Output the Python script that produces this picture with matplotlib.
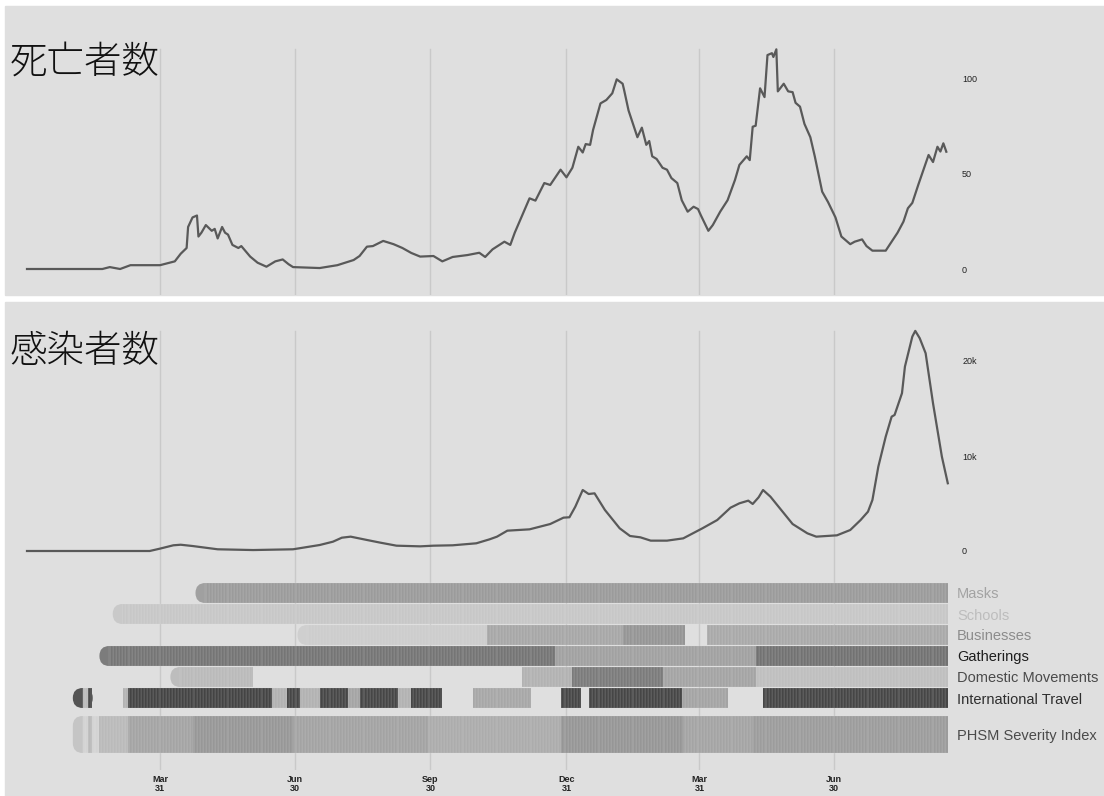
import numpy as np
import pandas as pd
import matplotlib
matplotlib.use("Agg")
import matplotlib.pyplot as plt
from matplotlib.patches import Rectangle, FancyBboxPatch, BoxStyle

plt.rcParams["font.family"] = ["Liberation Sans", "DejaVu Sans"]

# days are counted from 2020-01-01
death_day = [0, 51, 56, 63, 70, 76, 90, 95, 100, 104, 108, 109, 112, 115, 116, 118, 121, 125, 127, 129,
             132, 134, 136, 139, 143, 145, 151, 156, 162, 168, 173, 177, 180, 198, 210, 221, 225, 230, 234,
             241, 248, 254, 260, 266, 275, 281, 288, 298, 306, 310, 315, 323, 327, 330, 335, 340, 344, 350,
             354, 361, 365, 369, 373, 376, 378, 381, 383, 388, 392, 396, 399, 403, 404, 407, 410, 413, 416,
             419, 421, 423, 426, 430, 433, 436, 440, 443, 447, 451, 454, 456, 461, 464, 469, 474, 479, 482,
             487, 489, 491, 493, 496, 499, 501, 504, 505, 507, 508, 512, 515, 518, 520, 523, 526, 530, 533,
             538, 542, 547, 551, 557, 560, 565, 568, 572, 581, 585, 589, 593, 596, 599, 603, 608, 610, 613,
             616, 618, 620, 622]
death_value = [0, 0, 1, 0, 2, 2, 2, 3, 4, 8, 11, 22, 27, 28, 17, 19, 23, 20, 21, 16,
               22, 19, 18, 12.6, 11, 12, 6.5, 3.3, 1.2, 4, 5, 2.5, 1, 0.5, 2, 4.7, 6.8, 11.7, 12,
               14.7, 13, 11, 8.4, 6.5, 6.8, 4, 6.3, 7.3, 8.5, 6.3, 10.3, 14.3, 12.6, 19, 28, 37, 35.8, 45,
               44, 52, 48, 53, 64, 61, 65.4, 65, 72.8, 86.7, 88.5, 92, 99.3, 97, 93.7, 83, 76, 69, 74,
               65, 67, 59, 57.6, 53, 52, 47.6, 45, 36, 30, 32.6, 31.4, 28, 20, 23, 30, 36, 46.6, 54.5,
               59, 57, 74.5, 75, 94.6, 90, 112, 113, 111, 115, 93, 97, 93, 92.6, 87, 85, 76, 69, 59,
               40.5, 35, 27, 17, 13, 14.3, 15.5, 12, 9.6, 9.6, 14.3, 19, 24.8, 31.8, 34.6, 44, 55.3, 59.7, 56,
               64, 61.5, 65.8, 61.4]

case_day = [0, 83, 90, 99, 104, 112, 129, 153, 180, 198, 207, 213, 219, 230, 239, 250, 266, 275, 288, 304,
            313, 318, 325, 340, 354, 363, 367, 371, 376, 380, 384, 391, 401, 408, 415, 422, 433, 444, 457, 467,
            476, 482, 488, 491, 495, 498, 503, 507, 518, 528, 534, 548, 557, 564, 569, 572, 576, 581, 585, 587,
            592, 594, 599, 601, 604, 608, 613, 619, 623]
case_value = [0, 0, 250, 600, 660, 525, 180, 100, 180, 630, 980, 1400, 1510, 1160, 880, 560, 490, 560, 600, 810,
              1230, 1510, 2140, 2280, 2840, 3510, 3550, 4670, 6420, 6000, 6070, 4320, 2390, 1580, 1440, 1090, 1090,
              1330, 2390, 3260, 4560, 5020, 5300, 4950, 5650, 6420, 5720, 4950, 2840, 1860, 1510, 1650, 2210, 3260,
              4140, 5370, 8880, 12040, 14140, 14320, 16610, 19410, 22570, 23170, 22400, 20820, 15550, 9930, 7130]

# policy rows: (first day, last day, severity 0..1)
masks = [(114, 623, 0.36)]
schools = [(58, 623, 0.08)]
businesses = [(183, 311, 0.04), (311, 403, 0.28), (403, 445, 0.40), (460, 623, 0.27)]
gatherings = [(49, 357, 0.60), (357, 493, 0.32), (493, 623, 0.62)]
domestic = [(97, 153, 0.16), (335, 369, 0.21), (369, 430, 0.56), (430, 493, 0.30), (493, 623, 0.13)]
travel = [(31, 38, 0.87), (38, 41, 0.15), (41, 44, 0.87), (65, 68, 0.20), (68, 166, 0.91), (166, 176, 0.21),
          (176, 185, 0.90), (185, 198, 0.21), (198, 217, 0.90), (217, 225, 0.30), (225, 251, 0.90),
          (251, 260, 0.21), (260, 281, 0.90), (302, 341, 0.28), (361, 375, 0.90), (380, 443, 0.90),
          (443, 474, 0.30), (498, 623, 0.90)]
phsm = [(31, 35, 0.11), (35, 41, 0.0), (41, 44, 0.16), (44, 49, 0.0), (49, 68, 0.16), (68, 112, 0.30),
        (112, 180, 0.38), (180, 271, 0.31), (271, 361, 0.25), (361, 444, 0.39), (444, 491, 0.30),
        (491, 623, 0.35)]

rows = [masks, schools, businesses, gatherings, domestic, travel, phsm]
row_names = ["Masks", "Schools", "Businesses", "Gatherings", "Domestic Movements",
             "International Travel", "PHSM Severity Index"]
row_label_colors = ["#a3a3a3", "#bdbdbd", "#8c8c8c", "#1e1e1e", "#4a4a4a", "#2e2e2e", "#4a4a4a"]

tick_dates = ["2020-03-31", "2020-06-30", "2020-09-30", "2020-12-31", "2021-03-31", "2021-06-30"]

# ---------------------------------------------------------------
W, H = 1104, 796
BG = "#dfdfdf"
GRID = "#c9c9c9"
LINE = "#595959"
DAY0_PX = 27
PX_PER_DAY = 1.478


def px_box(x0, y0, x1, y1):
    return [x0 / W, 1 - y1 / H, (x1 - x0) / W, (y1 - y0) / H]


def grey(level, blend=0.0):
    v = (210 - 168 * level) / 255
    v = v * (1 - blend) + 0.92 * blend
    return (v, v, v)


start = pd.Timestamp("2020-01-01")
tick_ts = pd.to_datetime(tick_dates)
tick_days = [(t - start).days for t in tick_ts]
tick_labels = [t.strftime("%b") + "\n" + str(t.day) for t in tick_ts]

fig = plt.figure(figsize=(W / 100, H / 100), dpi=100, facecolor="white")
fig.patches.append(Rectangle((5 / W, 1 - 295 / H), 1099 / W, 289 / H,
                             transform=fig.transFigure, color=BG, zorder=-5))
fig.patches.append(Rectangle((5 / W, 0), 1099 / W, 494 / H,
                             transform=fig.transFigure, color=BG, zorder=-5))

AX_L, AX_R = 5, 951
xlim = ((AX_L - DAY0_PX) / PX_PER_DAY, (AX_R - DAY0_PX) / PX_PER_DAY)

ax1 = fig.add_axes(px_box(AX_L, 6, AX_R, 295))
ax2 = fig.add_axes(px_box(AX_L, 302, AX_R, 565))
ax3 = fig.add_axes(px_box(AX_L, 565, AX_R, 770))

for ax in (ax1, ax2, ax3):
    ax.patch.set_visible(False)
    ax.set_xlim(*xlim)
    for s in ax.spines.values():
        s.set_visible(False)

# deaths
ax1.set_ylim((269 - 295) / 1.91, (269 - 6) / 1.91)
for d in tick_days:
    ax1.axvline(d, ymax=(295 - 49) / 289, color=GRID, lw=1, zorder=0)
ax1.plot(death_day, death_value, color=LINE, lw=1.6, zorder=3)
ax1.yaxis.tick_right()
ax1.set_yticks([0, 50, 100])
ax1.set_xticks([])
ax1.tick_params(axis="y", length=0, pad=8, labelsize=6.5, labelcolor="#222222")

# infections
ax2.set_ylim((551 - 565) / 0.0095, (551 - 302) / 0.0095)
for d in tick_days:
    ax2.axvline(d, ymax=(565 - 331) / 263, color=GRID, lw=1, zorder=0)
ax2.plot(case_day, case_value, color=LINE, lw=1.6, zorder=3)
ax2.yaxis.tick_right()
ax2.set_yticks([0, 10000, 20000], ["0", "10k", "20k"])
ax2.set_xticks([])
ax2.tick_params(axis="y", length=0, pad=8, labelsize=6.5, labelcolor="#222222")

# policy heat rows
ax3.set_ylim(770, 565)
for d in tick_days:
    ax3.axvline(d, color=GRID, lw=1, zorder=0)

r_days = 10 / PX_PER_DAY
centers = []
for i, segs in enumerate(rows):
    if i < 6:
        top, h = 583 + 21 * i, 20
    else:
        top, h = 716, 37
    centers.append(top + h / 2)
    first = segs[0][0]
    cut = first + r_days
    cap = FancyBboxPatch((first, top), 2 * r_days, h,
                         boxstyle=BoxStyle("Round", pad=0, rounding_size=r_days),
                         mutation_aspect=PX_PER_DAY, facecolor=grey(segs[0][2], 0.12),
                         edgecolor="none", zorder=1.5)
    ax3.add_patch(cap)
    cells, colors = [], []
    for s, e, lvl in segs:
        for d in np.arange(s, e):
            x0 = max(d, cut)
            if x0 >= d + 1:
                continue
            cells.append((x0, d + 1 - x0))
            colors.append(grey(lvl))
    ax3.broken_barh(cells, (top, h), facecolors=colors,
                    edgecolor=(0.92, 0.92, 0.92, 0.32), linewidth=0.3, zorder=2)

ax3.yaxis.tick_right()
ax3.set_yticks(centers, row_names)
ax3.tick_params(axis="y", length=0, pad=4.5, labelsize=10.5)
for lab, c in zip(ax3.get_yticklabels(), row_label_colors):
    lab.set_color(c)
ax3.set_xticks(tick_days, tick_labels)
ax3.tick_params(axis="x", length=0, pad=3.5, labelsize=6.5, labelcolor="#222222")
for lab in ax3.get_xticklabels():
    lab.set_fontweight("bold")
    lab.set_linespacing(0.95)

cjk = ["Noto Sans CJK JP", "DejaVu Sans"]
fig.text(10 / W, 1 - 62 / H, "死亡者数", fontsize=27, family=cjk, weight="light",
         color="#111111", ha="left", va="center")
fig.text(10 / W, 1 - 351 / H, "感染者数", fontsize=27, family=cjk, weight="light",
         color="#111111", ha="left", va="center")

fig.savefig("out.png", dpi=100, facecolor="white")
plt.close(fig)
